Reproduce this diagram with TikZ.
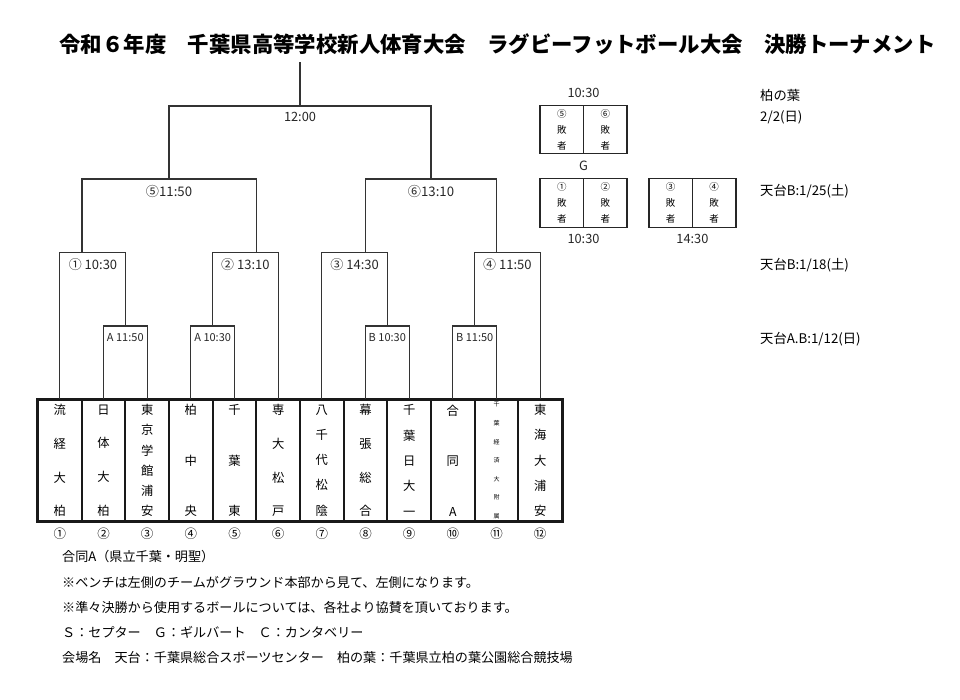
\documentclass[tikz,border=0pt]{standalone}
\usepackage{fontspec}
\setmainfont{Noto Sans CJK JP}
\usetikzlibrary{positioning}
\begin{document}
\begin{tikzpicture}[x=1pt,y=-1pt,
    line/.style={draw=black!80, line width=1.2pt},
    team/.style={draw=black!90, line width=1.8pt, minimum width=43.67pt, minimum height=121pt, inner sep=0pt, align=center, font=\fontsize{12.3}{#1}\selectfont},
    time/.style={font=\fontsize{12.8}{15}\selectfont, text=black!85},
    small/.style={font=\fontsize{11}{13}\selectfont, text=black!85},
    num/.style={font=\fontsize{12.5}{14}\selectfont, inner sep=0pt},
    lbox/.style={draw=black!85, line width=1.2pt, minimum width=43.5pt, minimum height=48.5pt, inner sep=0pt, align=center, font=\fontsize{9.5}{16}\selectfont},
    side/.style={anchor=west, inner sep=0pt, font=\fontsize{13.3}{15}\selectfont},
    note/.style={anchor=west, inner sep=0pt, font=\fontsize{13.1}{15}\selectfont}]
    \useasboundingbox (0,0) rectangle (960,699);
    \node[font=\fontsize{21.4}{25}\selectfont\bfseries] (title) at (497.5,44) {令和６年度　千葉県高等学校新人体育大会　ラグビーフットボール大会　決勝トーナメント};
    %% teams
    \node[team=33.7] (t1) at (59.8,460.5) {流\\経\\大\\柏};
    \node[team=33.7] (t2) at (103.5,460.5) {日\\体\\大\\柏};
    \node[team=20.2] (t3) at (147.2,460.5) {東\\京\\学\\館\\浦\\安};
    \node[team=50.5] (t4) at (190.8,460.5) {柏\\中\\央};
    \node[team=50.5] (t5) at (234.5,460.5) {千\\葉\\東};
    \node[team=33.7] (t6) at (278.2,460.5) {専\\大\\松\\戸};
    \node[team=25.3] (t7) at (321.8,460.5) {八\\千\\代\\松\\陰};
    \node[team=33.7] (t8) at (365.5,460.5) {幕\\張\\総\\合};
    \node[team=25.3] (t9) at (409.2,460.5) {千\\葉\\日\\大\\一};
    \node[team=50.5] (t10) at (452.8,460.5) {合\\同\\A};
    \node[team=18.6, font=\fontsize{6}{18.6}\selectfont] (t11) at (496.5,460.5) {千\\葉\\経\\済\\大\\附\\属};
    \node[team=25.3] (t12) at (540.2,460.5) {東\\海\\大\\浦\\安};
    \draw[line width=2.6pt, draw=black!90] (t1.north west) rectangle (t12.south east);
    \node[num, below=6pt of t1] (n1) {①}; \node[num, below=6pt of t2] (n2) {②};
    \node[num, below=6pt of t3] (n3) {③}; \node[num, below=6pt of t4] (n4) {④};
    \node[num, below=6pt of t5] (n5) {⑤}; \node[num, below=6pt of t6] (n6) {⑥};
    \node[num, below=6pt of t7] (n7) {⑦}; \node[num, below=6pt of t8] (n8) {⑧};
    \node[num, below=6pt of t9] (n9) {⑨}; \node[num, below=6pt of t10] (n10) {⑩};
    \node[num, below=6pt of t11] (n11) {⑪}; \node[num, below=6pt of t12] (n12) {⑫};
    %% bracket joints
    \coordinate (A1) at (125.3,326); \coordinate (A2) at (212.7,326);
    \coordinate (B1) at (387.3,326); \coordinate (B2) at (474.7,326);
    \coordinate (Q1) at (82,252.5); \coordinate (Q2) at (256.3,252.5);
    \coordinate (Q3) at (365.5,252.5); \coordinate (Q4) at (496.5,252.5);
    \coordinate (S1) at (169,179); \coordinate (S2) at (431,179);
    \coordinate (F) at (300,106); \coordinate (top) at (300,62);
    %% first round
    \draw[line] (t2.north) |- (A1) -| (t3.north);
    \draw[line] (t4.north) |- (A2) -| (t5.north);
    \draw[line] (t8.north) |- (B1) -| (t9.north);
    \draw[line] (t10.north) |- (B2) -| (t11.north);
    \node[small] (gA1) at (125.3,338) {A 11:50};
    \node[small] (gA2) at (212.7,338) {A 10:30};
    \node[small] (gB1) at (387.3,338) {B 10:30};
    \node[small] (gB2) at (474.7,338) {B 11:50};
    %% quarter finals
    \draw[line] (t1.north) |- (Q1) -| (A1);
    \draw[line] (A2) |- (Q2) -| (t6.north);
    \draw[line] (t7.north) |- (Q3) -| (B1);
    \draw[line] (B2) |- (Q4) -| (t12.north);
    \node[time, font=\fontsize{13}{15}\selectfont] (g1) at (93,265) {① 10:30};
    \node[time, font=\fontsize{13}{15}\selectfont] (g2) at (245.4,265) {② 13:10};
    \node[time, font=\fontsize{13}{15}\selectfont] (g3) at (354.6,265) {③ 14:30};
    \node[time, font=\fontsize{13}{15}\selectfont] (g4) at (507.4,265) {④ 11:50};
    %% semi finals and final
    \draw[line] (Q1) |- (S1) -| (Q2);
    \draw[line] (Q3) |- (S2) -| (Q4);
    \draw[line] (S1) |- (F) -| (S2);
    \draw[line] (F) -- (top);
    \node[time, font=\fontsize{13.2}{15}\selectfont] (g5) at (169,191) {⑤11:50};
    \node[time, font=\fontsize{13.2}{15}\selectfont] (g6) at (431,191) {⑥13:10};
    \node[time] (gF) at (300,117) {12:00};
    %% placing games
    \node[lbox] (l5) at (561.8,129.5) {⑤\\敗\\者};
    \node[lbox] (l6) at (605.3,129.5) {⑥\\敗\\者};
    \node[lbox] (l1) at (561.8,203) {①\\敗\\者};
    \node[lbox] (l2) at (605.3,203) {②\\敗\\者};
    \node[lbox] (l3) at (670.7,203) {③\\敗\\者};
    \node[lbox] (l4) at (714.2,203) {④\\敗\\者};
    \node[time] (p1) at (583.5,93) {10:30};
    \node[time] (pG) at (583.5,166) {G};
    \node[time] (p2) at (583.5,239) {10:30};
    \node[time] (p3) at (692.4,239) {14:30};
    %% venues and dates
    \node[side] (v1) at (760,95) {柏の葉};
    \node[side] (v2) at (760,117) {2/2(日)};
    \node[side] (v3) at (760,191) {天台B:1/25(土)};
    \node[side] (v4) at (760,265) {天台B:1/18(土)};
    \node[side] (v5) at (760,339) {天台A.B:1/12(日)};
    %% notes
    \node[note] (m1) at (62,557) {合同A（県立千葉・明聖）};
    \node[note] (m2) at (62,582) {※ベンチは左側のチームがグラウンド本部から見て、左側になります。};
    \node[note] (m3) at (62,607) {※準々決勝から使用するボールについては、各社より協賛を頂いております。};
    \node[note] (m4) at (62,632) {Ｓ：セプター　Ｇ：ギルバート　Ｃ：カンタベリー};
    \node[note] (m5) at (62,657) {会場名　天台：千葉県総合スポーツセンター　柏の葉：千葉県立柏の葉公園総合競技場};
\end{tikzpicture}
\end{document}
